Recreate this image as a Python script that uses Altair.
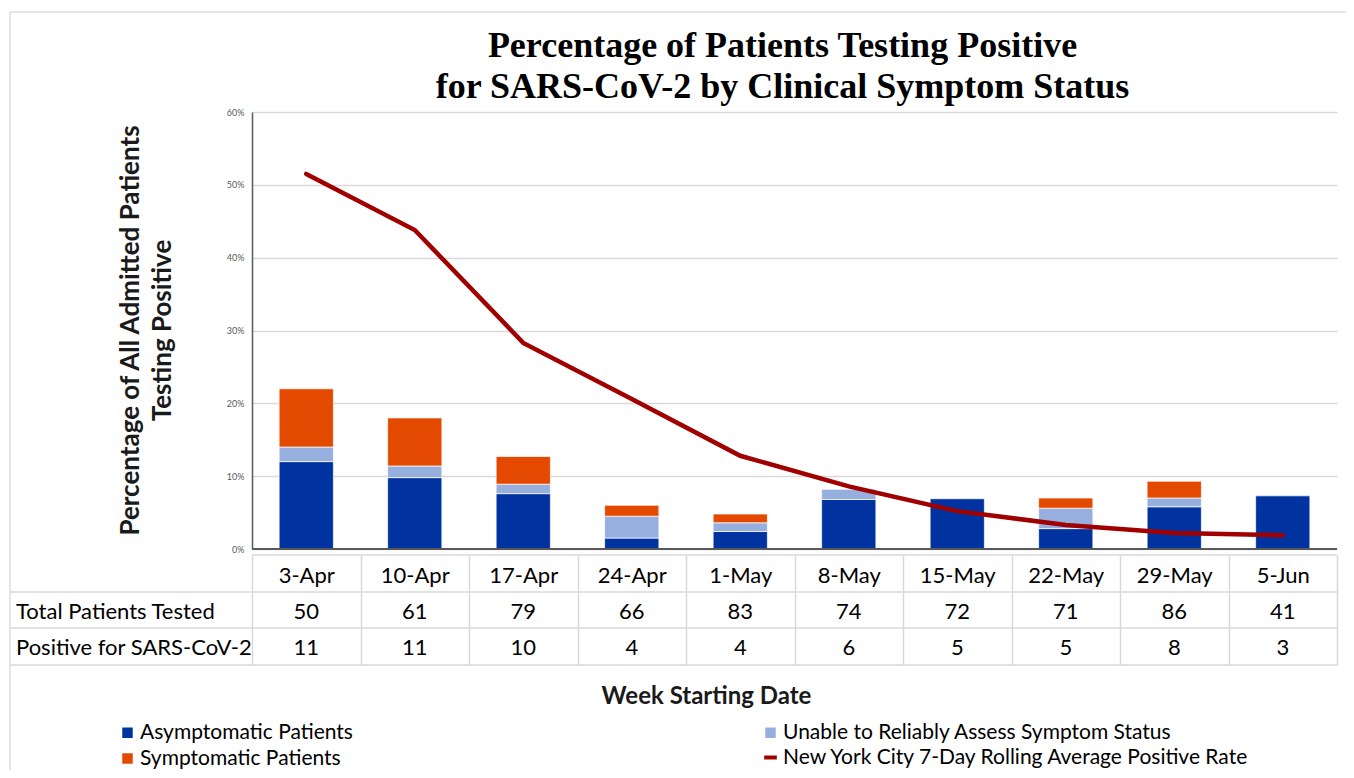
import altair as alt
import pandas as pd

# ---------------- data ----------------
weeks = ["3-Apr", "10-Apr", "17-Apr", "24-Apr", "1-May",
         "8-May", "15-May", "22-May", "29-May", "5-Jun"]
total_tested = [50, 61, 79, 66, 83, 74, 72, 71, 86, 41]
positive = [11, 11, 10, 4, 4, 6, 5, 5, 8, 3]

# percentage of all tested patients
asym_pct = [12.0, 9.8, 7.6, 1.5, 2.4, 6.8, 6.9, 2.8, 5.8, 7.3]
unable_pct = [2.0, 1.6, 1.3, 3.0, 1.2, 1.4, 0.0, 2.8, 1.2, 0.0]
sym_pct = [8.0, 6.6, 3.8, 1.5, 1.2, 0.0, 0.0, 1.4, 2.3, 0.0]

# NYC 7-day rolling average positive rate (%)
nyc_pct = [51.5, 43.8, 28.3, 20.6, 12.8, 8.6, 5.2, 3.3, 2.2, 1.9]

cat_asym = "Asymptomatic Patients"
cat_unable = "Unable to Reliably Assess Symptom Status"
cat_sym = "Symptomatic Patients"
line_label = "New York City 7-Day Rolling Average Positive Rate"
row_labels = ["Total Patients Tested", "Positive for SARS-CoV-2"]
title_lines = ["Percentage of Patients Testing Positive",
               "for SARS-CoV-2 by Clinical Symptom Status"]

rows = []
for i, w in enumerate(weeks):
    for k, (cat, vals) in enumerate([(cat_asym, asym_pct),
                                     (cat_unable, unable_pct),
                                     (cat_sym, sym_pct)]):
        if vals[i] > 0:
            rows.append({"week": w, "category": cat, "ord": k, "pct": vals[i]})
bars_df = pd.DataFrame(rows)
line_df = pd.DataFrame({"week": weeks, "nyc": nyc_pct, "series": line_label})
table_df = pd.DataFrame({"week": weeks, "total": total_tested, "positive": positive})
label_df = pd.DataFrame({"label": row_labels})
title_df = pd.DataFrame({"text": title_lines})

# ---------------- layout ----------------
W, H = 1085, 437
FONT = "Lato"
GRID = "#D9D9D9"

x_enc = alt.X(
    "week:N", sort=weeks,
    scale=alt.Scale(paddingInner=0, paddingOuter=0),
    axis=alt.Axis(
        orient="bottom", offset=6, domain=False,
        ticks=True, tickBand="extent", tickSize=110, tickColor=GRID, tickWidth=1.5,
        labelAngle=0, labelFont=FONT, labelFontSize=22, labelColor="black",
        labelBaseline="alphabetic", labelPadding=-83,
        title="Week Starting Date", titleFont=FONT, titleFontSize=24,
        titleFontWeight="bold", titleColor="#1a1a1a",
        titleX=454, titleY=148, titleAlign="center", titleBaseline="alphabetic",
    ),
)

y_scale = alt.Scale(domain=[0, 60], nice=False)
y_axis = alt.Axis(
    values=[0, 10, 20, 30, 40, 50, 60], labelExpr="datum.value + '%'",
    labelFont=FONT, labelFontSize=9, labelColor="#595959", labelPadding=8,
    ticks=False, domain=True, domainColor="#595959", domainWidth=1.5,
    grid=True, gridColor=GRID, gridWidth=1.5,
    title=["Percentage of All Admitted Patients", "Testing Positive"],
    titleFont=FONT, titleFontSize=26, titleFontWeight="bold", titleColor="#1a1a1a",
    titleAngle=-90, titleX=-114, titleY=218, titleAlign="center",
    titleBaseline="alphabetic", titleLineHeight=32,
)

bars = alt.Chart(bars_df).mark_bar(
    width=alt.RelativeBandSize(0.5), stroke="white", strokeWidth=1, strokeOpacity=0.7
).encode(
    x=x_enc,
    y=alt.Y("pct:Q", stack="zero", scale=y_scale, axis=y_axis),
    order=alt.Order("ord:Q", sort="ascending"),
    color=alt.Color(
        "category:N",
        scale=alt.Scale(domain=[cat_asym, cat_unable, cat_sym],
                        range=["#0033A0", "#96AFDE", "#E34A00"]),
        legend=alt.Legend(
            title=None, orient="none", legendX=-135, legendY=610,
            direction="horizontal", columns=2, columnPadding=407, rowPadding=4,
            values=[cat_asym, cat_unable, cat_sym],
            symbolType="square", symbolSize=110, symbolStrokeWidth=0,
            labelFont=FONT, labelFontSize=21, labelColor="black", labelOffset=2,
            labelLimit=600,
        ),
    ),
)

baseline = alt.Chart(line_df).mark_rule(color="#595959", strokeWidth=1.5).encode(
    y=alt.Y(datum=0, type="quantitative", scale=y_scale, axis=y_axis)
)

line = alt.Chart(line_df).mark_line(strokeWidth=4.5, strokeCap="round").encode(
    x=x_enc,
    y=alt.Y("nyc:Q", scale=y_scale, axis=y_axis),
    stroke=alt.Stroke(
        "series:N",
        scale=alt.Scale(domain=[line_label], range=["#A00000"]),
        legend=alt.Legend(
            title=None, orient="none", legendX=508, legendY=635,
            symbolType="stroke", symbolStrokeWidth=4, symbolSize=160,
            labelFont=FONT, labelFontSize=21, labelColor="black", labelOffset=2,
            labelLimit=600,
        ),
    ),
)

txt_style = dict(font=FONT, fontSize=22, color="black", baseline="alphabetic")

total_txt = alt.Chart(table_df).mark_text(align="center", **txt_style).encode(
    x=x_enc, y=alt.value(507), text="total:N"
)
pos_txt = alt.Chart(table_df).mark_text(align="center", **txt_style).encode(
    x=x_enc, y=alt.value(543), text="positive:N"
)
lab1 = alt.Chart(label_df.iloc[[0]]).mark_text(align="left", **txt_style).encode(
    x=alt.value(-236), y=alt.value(507), text="label:N"
)
lab2 = alt.Chart(label_df.iloc[[1]]).mark_text(align="left", **txt_style).encode(
    x=alt.value(-236), y=alt.value(543), text="label:N"
)

title_style = dict(font="Liberation Serif", fontSize=36, fontWeight="bold",
                   color="black", baseline="alphabetic", align="center")
title1 = alt.Chart(title_df.iloc[[0]]).mark_text(**title_style).encode(
    x=alt.value(W / 2 - 12), y=alt.value(-55), text="text:N")
title2 = alt.Chart(title_df.iloc[[1]]).mark_text(**title_style).encode(
    x=alt.value(W / 2 - 12), y=alt.value(-14), text="text:N")

# table horizontal lines and outer frame
rule_style = dict(color=GRID, strokeWidth=1.5)
one = label_df.iloc[[0]]
hl_top = alt.Chart(one).mark_rule(**rule_style).encode(
    x=alt.value(0), x2=alt.value(W), y=alt.value(443))
hl_1 = alt.Chart(one).mark_rule(**rule_style).encode(
    x=alt.value(-242), x2=alt.value(W), y=alt.value(480))
hl_2 = alt.Chart(one).mark_rule(**rule_style).encode(
    x=alt.value(-242), x2=alt.value(W), y=alt.value(516))
hl_3 = alt.Chart(one).mark_rule(**rule_style).encode(
    x=alt.value(-242), x2=alt.value(W), y=alt.value(553))
frame_top = alt.Chart(one).mark_rule(color="#DDDDDD", strokeWidth=1.5).encode(
    x=alt.value(-242), x2=alt.value(1102), y=alt.value(-100))
frame_left = alt.Chart(one).mark_rule(color="#DDDDDD", strokeWidth=1.5).encode(
    x=alt.value(-242), y=alt.value(-100), y2=alt.value(666))

chart = alt.layer(
    bars, line, baseline,
    frame_top, frame_left, hl_top, hl_1, hl_2, hl_3,
    total_txt, pos_txt, lab1, lab2, title1, title2,
).properties(
    width=W, height=H,
    autosize=alt.AutoSizeParams(type="none"),
    padding={"left": 244, "top": 104, "right": 9, "bottom": 221},
    background="white",
).configure_view(stroke=None)

chart.save("out.html", embed_options={"renderer": "svg", "actions": False})
